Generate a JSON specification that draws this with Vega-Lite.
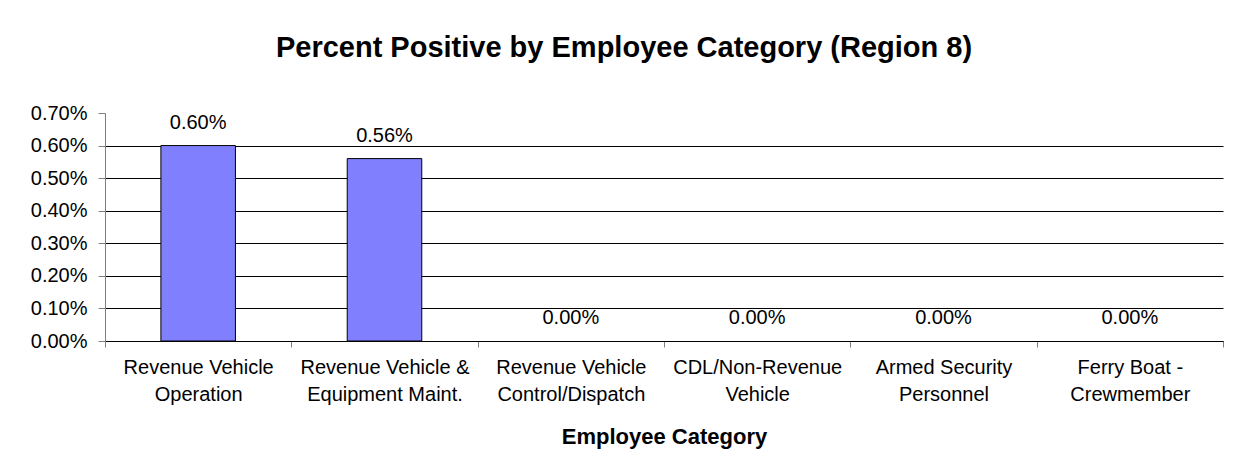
{
  "$schema": "https://vega.github.io/schema/vega-lite/v6.json",
  "width": 1118,
  "height": 228,
  "autosize": {"type": "none"},
  "padding": {"left": 105, "top": 113, "right": 15, "bottom": 133},
  "background": "white",
  "config": {"view": {"stroke": null}, "font": "Liberation Sans"},
  "title": {
    "text": "Percent Positive by Employee Category (Region 8)",
    "font": "Liberation Sans",
    "fontSize": 29,
    "fontWeight": "bold",
    "color": "black",
    "anchor": "middle",
    "dx": -40,
    "offset": 40
  },
  "data": {
    "values": [
      {"category": "Revenue Vehicle|Operation", "pct": 0.006},
      {"category": "Revenue Vehicle &|Equipment Maint.", "pct": 0.0056},
      {"category": "Revenue Vehicle|Control/Dispatch", "pct": 0},
      {"category": "CDL/Non-Revenue|Vehicle", "pct": 0},
      {"category": "Armed Security|Personnel", "pct": 0},
      {"category": "Ferry Boat -|Crewmember", "pct": 0}
    ]
  },
  "encoding": {
    "x": {
      "field": "category",
      "type": "nominal",
      "sort": null,
      "scale": {"paddingInner": 0, "paddingOuter": 0},
      "axis": {
        "title": "Employee Category",
        "titleFont": "Liberation Sans",
        "titleFontSize": 22,
        "titleFontWeight": "bold",
        "titleColor": "black",
        "titlePadding": 22,
        "labelExpr": "split(datum.label, '|')",
        "labelAngle": 0,
        "labelFontSize": 20,
        "labelColor": "black",
        "labelLineHeight": 27,
        "labelPadding": 10,
        "labelBaseline": "top",
        "tickBand": "extent",
        "tickSize": 6,
        "tickColor": "#808080",
        "domainColor": "black",
        "grid": false
      }
    },
    "y": {
      "field": "pct",
      "type": "quantitative",
      "scale": {"domain": [0, 0.007], "nice": false},
      "axis": {
        "title": null,
        "format": ".2%",
        "values": [0, 0.001, 0.002, 0.003, 0.004, 0.005, 0.006, 0.007],
        "labelFontSize": 20,
        "labelColor": "black",
        "labelPadding": 11,
        "tickSize": 7,
        "tickColor": "#808080",
        "domainColor": "#808080",
        "grid": true,
        "gridColor": "black",
        "gridOpacity": {"condition": {"test": "datum.value > 0.0065", "value": 0}, "value": 1}
      }
    }
  },
  "layer": [
    {
      "mark": {"type": "bar", "width": {"band": 0.4}, "color": "#8080FF", "stroke": "black"},
      "encoding": {
        "strokeWidth": {"condition": {"test": "datum.pct == 0", "value": 0}, "value": 1}
      }
    },
    {
      "mark": {"type": "text", "fontSize": 20, "color": "black", "baseline": "alphabetic", "dy": -17},
      "encoding": {"text": {"field": "pct", "type": "quantitative", "format": ".2%"}}
    }
  ]
}
